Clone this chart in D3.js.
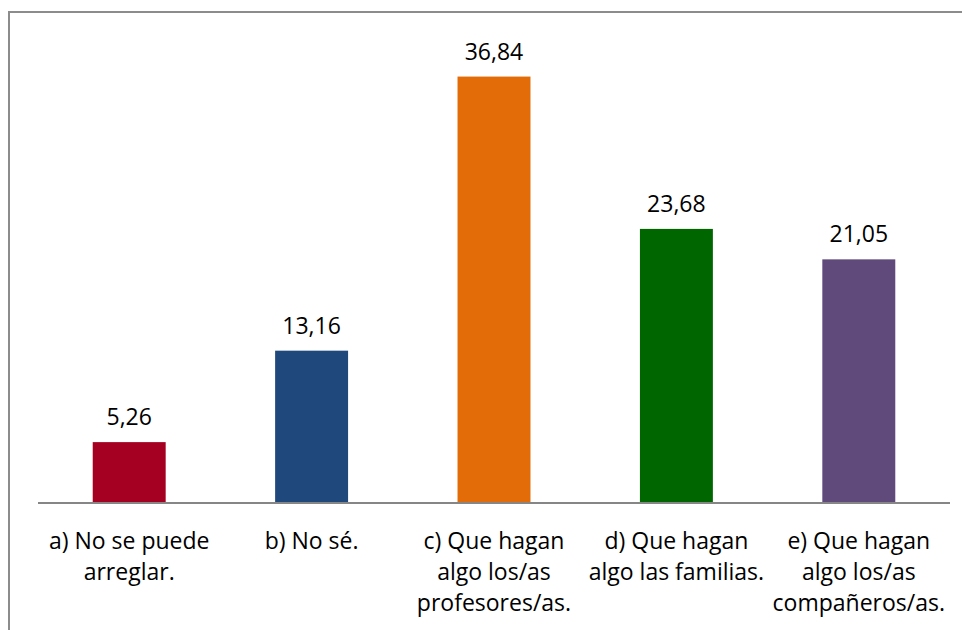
<!DOCTYPE html>
<html>
<head>
<meta charset="utf-8">
<script src="https://cdn.jsdelivr.net/npm/d3@7"></script>
<style>
body { margin: 0; background: #fff; }
.value { font-family: "Open Sans", sans-serif; font-size: 23px; fill: #000; }
.cat { font-family: "Open Sans", sans-serif; font-size: 23px; fill: #000; }
</style>
</head>
<body>
<script>
var categories = ["a", "b", "c", "d", "e"];
var values = [5.26, 13.16, 36.84, 23.68, 21.05];
var labels = [
    ["a) No se puede", "arreglar."],
    ["b) No sé."],
    ["c) Que hagan", "algo los/as", "profesores/as."],
    ["d) Que hagan", "algo las familias."],
    ["e) Que hagan", "algo los/as", "compañeros/as."]
];
var colors = ["#A50021", "#1F497D", "#E36C09", "#006600", "#604A7B"];

var drawChart = function(){
    var svg = d3.select("body").append("svg")
        .attr("width", 962)
        .attr("height", 630);

    // outer frame, cut off on the right and bottom
    svg.append("rect")
        .attr("x", 9).attr("y", 12)
        .attr("width", 1000).attr("height", 700)
        .attr("fill", "none")
        .attr("stroke", "#8c8c8c")
        .attr("stroke-width", 2);

    var xScale = d3.scaleBand().domain(categories).range([38, 950])
        .paddingInner(0.6).paddingOuter(0.3);
    var yScale = d3.scaleLinear().domain([0, 40]).range([503, 40]);

    svg.append("g").selectAll("rect").data(values).enter().append("rect")
        .attr("x", function(d, i){ return xScale(categories[i]); })
        .attr("y", function(d){ return yScale(d); })
        .attr("width", xScale.bandwidth())
        .attr("height", function(d){ return yScale(0) - yScale(d); })
        .attr("fill", function(d, i){ return colors[i]; });

    svg.append("g").selectAll("text").data(values).enter().append("text")
        .classed("value", true)
        .attr("text-anchor", "middle")
        .attr("x", function(d, i){ return xScale(categories[i]) + xScale.bandwidth() / 2; })
        .attr("y", function(d){ return yScale(d) - 17; })
        .text(function(d){ return d.toFixed(2).replace(".", ","); });

    // baseline
    svg.append("line")
        .attr("x1", 38).attr("x2", 950)
        .attr("y1", yScale(0)).attr("y2", yScale(0))
        .attr("stroke", "#868686")
        .attr("stroke-width", 2);

    var cats = svg.append("g").selectAll("text").data(labels).enter().append("text")
        .classed("cat", true)
        .attr("text-anchor", "middle")
        .attr("x", function(d, i){ return xScale(categories[i]) + xScale.bandwidth() / 2; })
        .attr("y", 549);
    cats.selectAll("tspan").data(function(d){ return d; }).enter().append("tspan")
        .attr("x", function(){ return d3.select(this.parentNode).attr("x"); })
        .attr("dy", function(d, i){ return i === 0 ? 0 : 31; })
        .text(function(d){ return d; });
}

window.onload = drawChart;
</script>
</body>
</html>
